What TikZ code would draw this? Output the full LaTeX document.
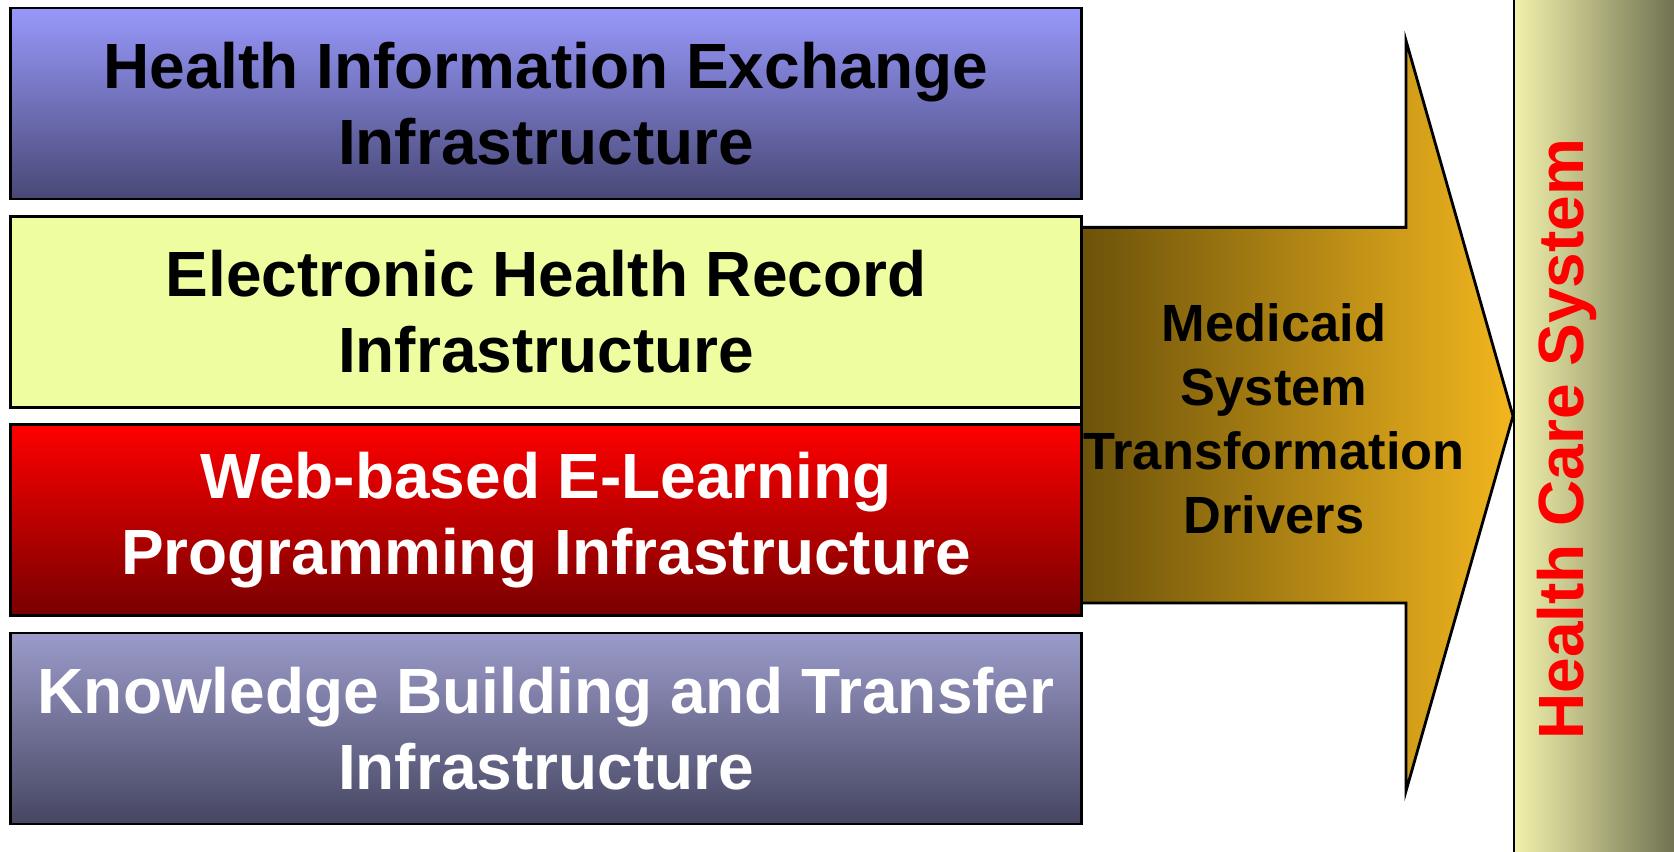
\documentclass[tikz,border=0pt]{standalone}
\usepackage{fontspec}
\setmainfont{Liberation Sans}
\usetikzlibrary{positioning}

\definecolor{hieclaro}{RGB}{152,152,252}
\definecolor{hieoscuro}{RGB}{72,72,118}
\definecolor{ehrfondo}{RGB}{238,253,160}
\definecolor{webclaro}{RGB}{255,0,0}
\definecolor{weboscuro}{RGB}{120,0,0}
\definecolor{kbclaro}{RGB}{155,155,202}
\definecolor{kboscuro}{RGB}{70,70,98}
\definecolor{flechaoscura}{RGB}{108,82,10}
\definecolor{flechaclara}{RGB}{242,182,30}
\definecolor{barraclara}{RGB}{242,242,172}
\definecolor{barraoscura}{RGB}{108,110,78}

\tikzset{
  caja/.style={draw=black, line width=0.8pt, minimum width=10.715cm,
    minimum height=1.91cm, align=center, inner sep=0pt,
    font=\fontsize{18.2}{21.5}\selectfont\bfseries},
  borde/.style={line width=0.8pt}
}

\begin{document}
\begin{tikzpicture}
    \useasboundingbox (0,0) rectangle (16.74,8.52);

    % Barra del sistema de salud
    \shade[left color=barraclara, right color=barraoscura] (15.14,-0.1) rectangle (16.8,8.6);
    \draw[borde] (15.14,-0.1) -- (15.14,8.6);
    \node[rotate=90, text=red, font=\fontsize{18.2}{21.5}\selectfont\bfseries] (salud) at (15.67,4.13) {Health Care System};

    % Flecha
    \draw[borde, left color=flechaoscura, right color=flechaclara]
      (10.815,6.246) -- (14.06,6.246) -- (14.06,8.114) -- (15.13,4.36)
      -- (14.06,0.61) -- (14.06,2.49) -- (10.815,2.49) -- cycle;

    % Cajas
    \node[caja, top color=hieclaro, bottom color=hieoscuro] (hie) at (5.46,7.484)
      {Health Information Exchange\\Infrastructure};
    \node[caja, fill=ehrfondo, below=0.145cm of hie] (ehr)
      {Electronic Health Record\\Infrastructure};
    \node[caja, top color=webclaro, bottom color=weboscuro, text=white, below=0.145cm of ehr] (web)
      {Web-based E-Learning\\Programming Infrastructure};
    \node[caja, top color=kbclaro, bottom color=kboscuro, text=white, below=0.145cm of web] (kb)
      {Knowledge Building and Transfer\\Infrastructure};

    % Texto de la flecha
    \node[align=center, font=\fontsize{14.9}{18.2}\selectfont\bfseries] (medicaid) at (12.74,4.335)
      {Medicaid\\System\\Transformation\\Drivers};
\end{tikzpicture}
\end{document}
